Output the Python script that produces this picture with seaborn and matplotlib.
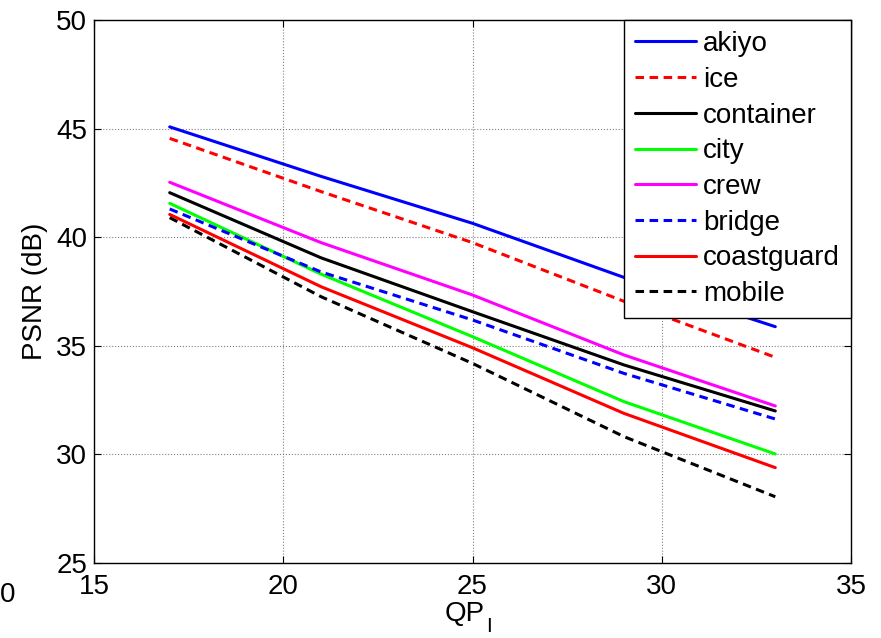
import numpy as np
import pandas as pd
import matplotlib
matplotlib.use("Agg")
import matplotlib.pyplot as plt
import seaborn as sns

qp = [17, 21, 25, 29, 33]
names = ["akiyo", "ice", "container", "city", "crew", "bridge", "coastguard", "mobile"]
akiyo = [45.08, 42.80, 40.64, 38.15, 35.88]
ice = [44.55, 42.10, 39.75, 37.05, 34.47]
container = [42.05, 39.05, 36.57, 34.12, 32.00]
city = [41.56, 38.30, 35.42, 32.43, 30.02]
crew = [42.53, 39.75, 37.34, 34.58, 32.23]
bridge = [41.30, 38.40, 36.19, 33.73, 31.63]
coastguard = [41.05, 37.72, 34.91, 31.89, 29.39]
mobile = [40.90, 37.26, 34.19, 30.82, 28.05]
series = [akiyo, ice, container, city, crew, bridge, coastguard, mobile]

colors = {"akiyo": "#0000ff", "ice": "#ff0000", "container": "#000000", "city": "#00ff00",
          "crew": "#ff00ff", "bridge": "#0000ff", "coastguard": "#ff0000", "mobile": "#000000"}
dash = (2.8, 1.8)
dashes = {"akiyo": "", "ice": dash, "container": "", "city": "", "crew": "",
          "bridge": dash, "coastguard": "", "mobile": dash}

rows = []
for n, vals in zip(names, series):
    for q, v in zip(qp, vals):
        rows.append({"QP": q, "PSNR": v, "seq": n})
df = pd.DataFrame(rows)

sns.set_theme(style="white")
plt.rcParams["font.family"] = ["Liberation Sans", "DejaVu Sans"]
plt.rcParams["text.color"] = "black"
plt.rcParams["axes.labelcolor"] = "black"

FS = 20

fig = plt.figure(figsize=(8.81, 6.38), dpi=100)
ax = fig.add_axes([94/881, 1-563/638, (851-94)/881, (563-20)/638])

sns.lineplot(data=df, x="QP", y="PSNR", hue="seq", style="seq", hue_order=names,
             style_order=names, palette=colors, dashes=dashes, lw=2.2, ax=ax,
             sort=False, estimator=None)

ax.set_xlim(15, 35)
ax.set_ylim(25, 50)
ax.set_xticks([15, 20, 25, 30, 35])
ax.set_yticks([25, 30, 35, 40, 45, 50])
ax.grid(True, linestyle=":", color="#808080", linewidth=0.8)
ax.tick_params(direction="in", length=5, width=0.8, colors="black", labelsize=FS,
               top=True, right=True, bottom=True, left=True, pad=5)
ax.tick_params(axis="x", pad=8)
for s in ax.spines.values():
    s.set_visible(True)
    s.set_color("black")
    s.set_linewidth(1.0)

ax.set_xlabel("QP", fontsize=FS)
ax.xaxis.set_label_coords((465-94)/757, (563-601)/543, transform=ax.transAxes)
ax.xaxis.label.set_va("top")
ax.set_ylabel("PSNR (dB)", fontsize=FS, labelpad=6)
fig.text(486/881, 2/638, "I", ha="left", va="bottom", fontsize=15)

handles, labels = ax.get_legend_handles_labels()
leg = ax.legend(handles, labels, loc="upper right", bbox_to_anchor=(1, 1),
                borderaxespad=0, fontsize=FS, frameon=True, fancybox=False,
                edgecolor="black", framealpha=1, handlelength=2.2,
                handletextpad=0.25, labelspacing=0.35, borderpad=0.4)
leg.get_frame().set_linewidth(1.0)

fig.text(0, 1-582/638, "0", ha="left", va="top", fontsize=FS)

fig.savefig("out.png", dpi=100)
